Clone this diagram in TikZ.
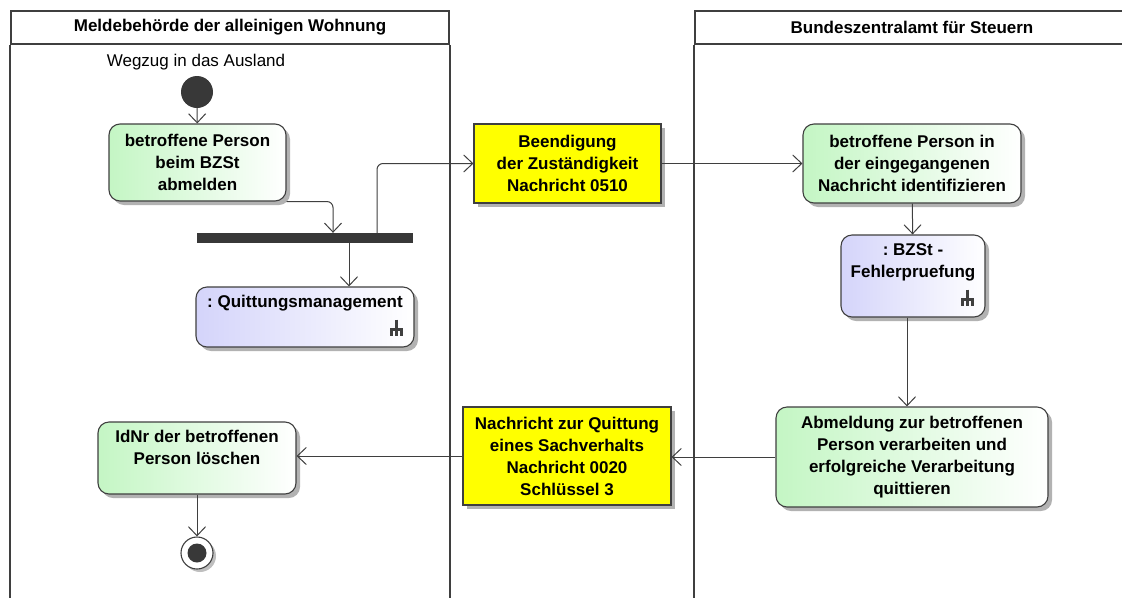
\documentclass[tikz,border=0pt]{standalone}
\usepackage{fontspec}
\setmainfont{Liberation Sans}
\frenchspacing
\usetikzlibrary{arrows.meta,positioning,shadows,calc}
\definecolor{LaneGray}{HTML}{3F3F3F}
\definecolor{ActGreen}{HTML}{C4F6C4}
\definecolor{SubBlue}{HTML}{D4D4FA}
\definecolor{MsgYellow}{HTML}{FFFF00}
\definecolor{BarDark}{HTML}{383838}
\newcommand{\boxfont}{\fontsize{17}{22}\selectfont\bfseries}
\tikzset{
  lanehead/.style={rectangle,draw=LaneGray,line width=1.6pt,inner sep=0pt,font=\boxfont},
  lane/.style={draw=LaneGray,line width=1.6pt},
  action/.style={rectangle,rounded corners=11pt,draw=LaneGray,line width=1.1pt,left color=ActGreen,right color=white,align=center,font=\boxfont,drop shadow={shadow xshift=4pt,shadow yshift=-4pt,fill=black!30,opacity=1}},
  subact/.style={rectangle,rounded corners=11pt,draw=LaneGray,line width=1.1pt,left color=SubBlue,right color=white,drop shadow={shadow xshift=4pt,shadow yshift=-4pt,fill=black!30,opacity=1}},
  message/.style={rectangle,draw=LaneGray,line width=1.1pt,fill=MsgYellow,align=center,font=\boxfont,drop shadow={shadow xshift=4pt,shadow yshift=-4pt,fill=black!30,opacity=1}},
  boxtext/.style={inner sep=0pt,align=center,font=\boxfont},
  forkbar/.style={rectangle,fill=BarDark,inner sep=0pt},
  startnode/.style={circle,fill=BarDark,minimum size=32pt,inner sep=0pt},
  endnode/.style={circle,draw=LaneGray,line width=1.1pt,fill=white,minimum size=32pt,inner sep=0pt,drop shadow={shadow xshift=3pt,shadow yshift=-3pt,fill=black!25,opacity=1}},
  enddot/.style={circle,fill=BarDark,minimum size=19pt,inner sep=0pt},
  flow/.style={-{Straight Barb[length=9pt,width=17pt]},line width=1pt,draw=LaneGray},
  rake/.pic={\draw[line width=2.2pt,LaneGray] (0,0) -- (0,16) (-5,16) -- (-5,10) -- (5,10) -- (5,16);},
}
\begin{document}
\begin{tikzpicture}[x=1pt,y=-1pt]
  \useasboundingbox (0,0) rectangle (1122,598);

  % Swimlanes
  \node[lanehead,minimum width=438pt,minimum height=33pt] (laneL) at (230,27.5) {Meldebehörde der alleinigen Wohnung};
  \node[lanehead,minimum width=434pt,minimum height=33pt] (laneR) at (912,27.5) {Bundeszentralamt für Steuern};
  \draw[lane] (laneL.south west) -- (laneL.south west |- 0,598);
  \draw[lane] (laneL.south east) -- (laneL.south east |- 0,598);
  \draw[lane] (laneR.south west) -- (laneR.south west |- 0,598);

  % Lane 1: Meldebehoerde
  \node[font=\fontsize{17}{22}\selectfont] (wegzug) at (196,62.5) {Wegzug in das Ausland};
  \node[startnode] (start) at (197,92) {};
  \node[action,minimum width=177pt,minimum height=77pt] (abmelden) at (197.5,162.5) {betroffene Person\\beim BZSt\\abmelden};
  \node[forkbar,minimum width=216pt,minimum height=10pt] (fork) at (305,238) {};
  \node[subact,minimum width=218pt,minimum height=60pt] (quitt) at (305,317) {};
  \node[boxtext,below=9pt of quitt.north] (quittT) {: Quittungsmanagement};
  \pic at ($(quitt.south east)+(-18,-28)$) {rake};
  \node[action,minimum width=198pt,minimum height=72pt] (loeschen) at (197,458) {};
  \node[boxtext,below=9pt of loeschen.north] (loeschenT) {IdNr der betroffenen\\Person löschen};
  \node[endnode] (stop) at (197,553) {};
  \node[enddot] (stopdot) at (stop) {};

  % Messages between the lanes
  \node[message,minimum width=187pt,minimum height=79pt] (msg0510) at (567.5,163.5) {Beendigung\\der Zuständigkeit\\Nachricht 0510};
  \node[message,minimum width=208pt,minimum height=98pt] (msg0020) at (567,456) {Nachricht zur Quittung\\eines Sachverhalts\\Nachricht 0020\\Schlüssel 3};

  % Lane 2: BZSt
  \node[action,minimum width=218pt,minimum height=79pt] (ident) at (912,163.5) {betroffene Person in\\der eingegangenen\\Nachricht identifizieren};
  \node[subact,minimum width=144pt,minimum height=82pt] (pruef) at (913,276) {};
  \node[boxtext,below=9pt of pruef.north] (pruefT) {: BZSt -\\Fehlerpruefung};
  \pic at ($(pruef.south east)+(-18,-28)$) {rake};
  \node[action,minimum width=272pt,minimum height=100pt] (verarb) at (912,457) {Abmeldung zur betroffenen\\Person verarbeiten und\\erfolgreiche Verarbeitung\\quittieren};

  % Arrows lane 1
  \draw[flow] (start) -- (abmelden);
  \draw[flow,rounded corners=6pt] (abmelden.south east) -| ($(fork.north)+(28,0)$);
  \draw[flow] ($(fork.south)+(44,0)$) -- ($(quitt.north)+(44,0)$);
  \draw[flow,rounded corners=6pt] ($(fork.north)+(72,0)$) |- (msg0510.west);
  % Arrows lane 2
  \draw[flow] (msg0510) -- (ident);
  \draw[flow] (ident) -- (pruef);
  \draw[flow] ([xshift=-6pt]pruef.south) -- ([xshift=-5pt]verarb.north);
  \draw[flow] (verarb.west) -- (verarb.west -| msg0020.east);
  % Back to lane 1
  \draw[flow] (msg0020.west) -- (msg0020.west -| loeschen.east);
  \draw[flow] (loeschen) -- (stop);
\end{tikzpicture}
\end{document}
